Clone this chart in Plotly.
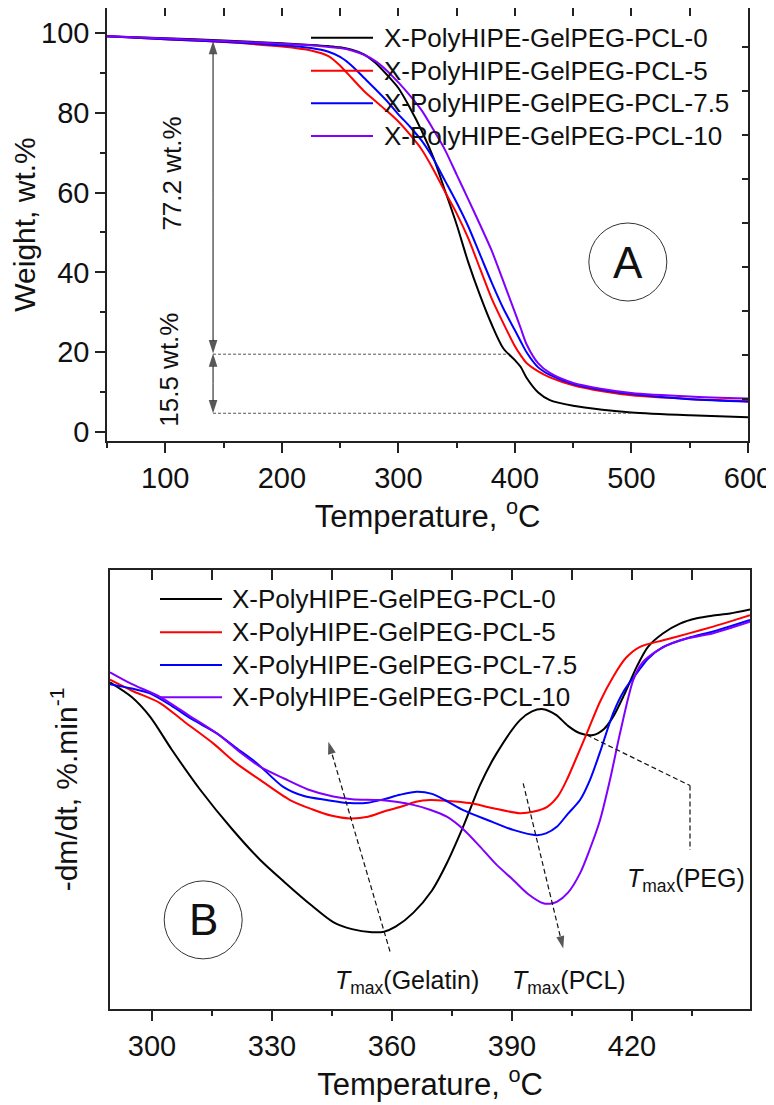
import plotly.graph_objects as go

# ---------------- data ----------------
NAMES = ["X-PolyHIPE-GelPEG-PCL-0", "X-PolyHIPE-GelPEG-PCL-5",
         "X-PolyHIPE-GelPEG-PCL-7.5", "X-PolyHIPE-GelPEG-PCL-10"]
COLORS = ["#000000", "#ff0000", "#0000ff", "#8000ff"]

# Panel A : TGA weight (%) vs temperature (°C)
T_TGA = [50, 100, 150, 200, 225, 240, 250, 260, 270, 280, 290, 300, 310, 320, 330, 340,
         350, 360, 370, 380, 390, 400, 405, 410, 420, 430, 450, 475, 500, 550, 600]
W_PCL0 = [99.2, 98.7, 98.1, 97.4, 97.0, 96.7, 96.4, 95.8, 94.7, 92.6, 89.6, 86.2, 81.2, 75.5, 68.8, 60.5,
          52.0, 42.5, 34.3, 27.0, 21.0, 18.0, 16.3, 13.6, 9.9, 8.0, 6.6, 5.6, 4.9, 4.2, 3.7]
W_PCL5 = [99.2, 98.4, 97.7, 96.6, 95.6, 94.2, 91.8, 88.7, 85.6, 83.0, 80.5, 77.8, 74.5, 70.8, 65.8, 60.2,
          54.8, 48.5, 41.0, 33.5, 27.3, 21.5, 19.2, 17.3, 15.2, 13.7, 11.7, 10.2, 9.2, 8.3, 7.8]
W_PCL75 = [99.2, 98.4, 97.8, 96.9, 96.2, 95.3, 94.0, 91.8, 88.9, 86.0, 83.0, 79.6, 76.5, 73.0, 68.5, 63.0,
           57.5, 51.5, 44.5, 37.5, 31.0, 25.5, 22.7, 20.0, 16.2, 14.3, 12.0, 10.5, 9.5, 8.2, 7.6]
W_PCL10 = [99.2, 98.6, 98.0, 97.3, 96.9, 96.5, 96.2, 95.6, 94.6, 93.0, 90.6, 87.6, 84.3, 80.6, 75.8, 70.7,
           64.5, 58.3, 52.0, 45.5, 37.8, 30.0, 26.0, 22.0, 17.2, 14.8, 12.3, 10.8, 9.8, 8.9, 8.4]

# Panel B : DTG (-dm/dt, arbitrary units) vs temperature (°C)
T_DTG0 = [289.5, 295, 299.5, 305, 312, 320, 327, 333, 340, 345.3, 350, 355, 358, 361, 365.3, 370,
          373.7, 378, 382, 386, 392, 395, 397.8, 401, 404, 407, 410.3, 413, 415.3, 418, 421.2,
          424, 427.8, 432, 436.2, 440, 444.5, 449.5]
D_PCL0 = [74.4, 71.0, 66.6, 59.0, 50.0, 41.0, 34.0, 29.0, 23.5, 19.8, 18.2, 17.5, 17.6, 18.8, 21.9, 27.0,
          33.2, 42.0, 51.0, 58.0, 65.8, 67.8, 68.3, 67.0, 64.5, 62.8, 62.4, 63.8, 66.6, 71.5, 78.0,
          82.5, 85.6, 87.8, 89.0, 89.6, 90.1, 91.0]
T_DTG5 = [289.5, 295, 302, 308, 315.3, 321, 327, 334.5, 340, 345, 349.5, 354, 358, 362, 366, 369.5,
          374, 379.5, 385, 392, 395.5, 398.7, 401.5, 403.7, 406, 408.7, 412, 415.3, 418.5, 422,
          427.8, 434, 440.3, 445, 449.5]
D_PCL5 = [75.0, 72.5, 69.7, 65.5, 60.5, 56.0, 52.2, 47.6, 45.5, 44.0, 43.4, 43.8, 45.0, 46.0, 47.2, 47.6,
          47.4, 46.9, 45.8, 44.6, 45.0, 46.0, 48.5, 52.2, 57.0, 62.8, 70.0, 75.7, 80.0, 82.5,
          84.0, 85.5, 87.1, 88.4, 89.7]
T_DTG75 = [289.5, 295, 299.5, 305, 310, 316.2, 321, 326.2, 332.8, 338, 343.7, 349.5, 354, 358, 362,
           366.2, 370, 374, 377.8, 384, 390.3, 396.2, 398.5, 401.2, 404, 407, 409.5, 412, 415.3,
           418, 421.2, 424, 427.8, 434, 440.3, 445, 449.5]
D_PCL75 = [74.0, 73.0, 71.9, 69.0, 66.0, 62.8, 59.5, 56.0, 50.6, 48.5, 47.6, 46.9, 47.0, 47.8, 48.8,
           49.5, 49.0, 47.2, 45.3, 43.0, 40.8, 39.6, 40.0, 41.5, 44.5, 47.6, 52.2, 58.5, 67.4,
           72.5, 76.5, 79.8, 82.5, 84.5, 86.0, 87.3, 88.6]
T_DTG10 = [289.5, 295, 302, 309, 316.2, 322, 327, 333, 339, 345.3, 350, 357, 361, 365.3, 369.5,
           373.7, 378, 382, 386, 390.3, 394, 397.8, 399.5, 401.2, 404, 407, 409.5, 412, 414.5,
           417, 420.3, 422.5, 425.3, 428.5, 432, 436, 440.3, 445, 449.5]
D_PCL10 = [76.7, 74.0, 71.1, 67.0, 62.8, 58.5, 55.2, 52.5, 50.0, 48.4, 47.8, 47.6, 47.2, 46.5, 45.4,
           43.8, 40.8, 37.0, 33.0, 29.4, 26.2, 24.1, 24.0, 24.4, 26.5, 30.9, 36.5, 43.0, 52.2,
           62.8, 74.9, 78.8, 81.0, 82.7, 84.0, 84.8, 85.6, 86.9, 88.2]

TGA = [W_PCL0, W_PCL5, W_PCL75, W_PCL10]
DTG = [(T_DTG0, D_PCL0), (T_DTG5, D_PCL5), (T_DTG75, D_PCL75), (T_DTG10, D_PCL10)]

FONT = "Arial, 'Liberation Sans', sans-serif"
PAGE_W, PAGE_H = 774, 1105
BODY = 8                      # default page body margin in the browser
W_FIG, H_FIG = PAGE_W - BODY, PAGE_H - BODY


def px_x(p):
    """page pixel x -> paper fraction"""
    return (p - BODY) / W_FIG


def px_y(p):
    """page pixel y -> paper fraction"""
    return (PAGE_H - p) / H_FIG


fig = go.Figure()
for name, color, w in zip(NAMES, COLORS, TGA):
    fig.add_trace(go.Scatter(x=T_TGA, y=w, mode="lines", name=name, showlegend=False,
                             line=dict(color=color, width=2, shape="spline", smoothing=0.8),
                             xaxis="x", yaxis="y"))
for name, color, (t, d) in zip(NAMES, COLORS, DTG):
    fig.add_trace(go.Scatter(x=t, y=d, mode="lines", name=name, showlegend=False,
                             line=dict(color=color, width=2, shape="spline", smoothing=0.8),
                             xaxis="x2", yaxis="y2"))

# empty helper traces so the frame axes (inward ticks on top / right) are drawn
for xa, ya in [("x3", "y"), ("x", "y3"), ("x4", "y2")]:
    fig.add_trace(go.Scatter(x=[], y=[], xaxis=xa, yaxis=ya, showlegend=False, hoverinfo="skip"))


# annotation arrows (tail -> tip), drawn with arrow-head markers
def arrow(xs, ys, xa, ya, dash="solid", width=1.0, size=14):
    fig.add_trace(go.Scatter(x=xs, y=ys, xaxis=xa, yaxis=ya, mode="lines+markers",
                             showlegend=False, hoverinfo="skip",
                             line=dict(color="#111", width=width, dash=dash),
                             marker=dict(symbol="arrow", angleref="previous", size=[0, size],
                                         color="#111", line=dict(width=0))))


arrow([141, 141], [58.85, 98.0], "x", "y")
arrow([141, 141], [58.85, 19.7], "x", "y")
arrow([141, 141], [12.2, 19.7], "x", "y")
arrow([141, 141], [12.2, 4.7], "x", "y")
arrow([359.5, 344.1], [13.1, 60.9], "x2", "y2", dash="5px,3px", width=1.2, size=13)
arrow([392.8, 402.8], [51.4, 13.8], "x2", "y2", dash="5px,3px", width=1.2, size=13)

AX = dict(showline=True, linecolor="#222", linewidth=1.5, tickcolor="#222", tickwidth=1.5,
          showgrid=False, zeroline=False, tickfont=dict(family=FONT, size=29, color="#111"))

# top panel: frame top clamped to the page body edge; range keeps 4 px per wt.%
Y1_RANGE = [-2.25, 106.25]
dom_x1 = [px_x(107), px_x(748)]
dom_y1 = [px_y(441), 1.0]
dom_x2 = [px_x(110), px_x(750)]
dom_y2 = [px_y(1009), px_y(570)]

fig.update_layout(
    width=W_FIG, height=H_FIG,
    margin=dict(l=0, r=0, t=0, b=0, autoexpand=False),
    paper_bgcolor="white", plot_bgcolor="white",
    font=dict(family=FONT, color="#111"),
    showlegend=False,
    xaxis=dict(AX, domain=dom_x1, anchor="y", range=[50, 600], tick0=0, dtick=100, mirror=True,
               ticks="outside", ticklen=10,
               minor=dict(ticks="outside", ticklen=5, dtick=50, tick0=0, tickcolor="#222", tickwidth=1.5),
               title=dict(text="Temperature, <sup>o</sup>C", font=dict(family=FONT, size=31), standoff=10)),
    yaxis=dict(AX, domain=dom_y1, anchor="x", range=Y1_RANGE, tick0=0, dtick=20, mirror=True,
               ticks="outside", ticklen=10,
               minor=dict(ticks="outside", ticklen=5, dtick=10, tick0=0, tickcolor="#222", tickwidth=1.5),
               title=dict(text="Weight, wt.%", font=dict(family=FONT, size=30), standoff=12)),
    xaxis3=dict(AX, domain=dom_x1, anchor="y", overlaying="x", side="top", range=[50, 600],
                tick0=0, dtick=50, ticks="inside", ticklen=8, showticklabels=False),
    yaxis3=dict(AX, domain=dom_y1, anchor="x", overlaying="y", side="right", range=Y1_RANGE,
                tick0=8.4, dtick=11, ticks="inside", ticklen=6, showticklabels=False),
    xaxis2=dict(AX, domain=dom_x2, anchor="y2", range=[289.5, 449.5], tick0=300, dtick=30, mirror=True,
                ticks="outside", ticklen=10,
                minor=dict(ticks="outside", ticklen=5, dtick=15, tick0=300, tickcolor="#222", tickwidth=1.5),
                title=dict(text="Temperature, <sup>o</sup>C", font=dict(family=FONT, size=31), standoff=12)),
    yaxis2=dict(AX, domain=dom_y2, anchor="x2", range=[0, 100], showticklabels=False, ticks="",
                mirror=True,
                title=dict(text="-dm/dt, %.min<sup>-1</sup>", font=dict(family=FONT, size=30), standoff=22)),
    xaxis4=dict(AX, domain=dom_x2, anchor="y2", overlaying="x2", side="top", range=[289.5, 449.5],
                tick0=300, dtick=15, ticks="inside", ticklen=10, showticklabels=False),
)

shapes = []
ann = []

# ---- legends (drawn as line samples + labels) ----
LEG_FONT = dict(family=FONT, size=26, color="#111")
for (lx0, lx1, tx, rows) in [(311, 373, 382, [37.7, 70.7, 103.3, 136.0]),
                             (160, 222, 230, [599.0, 632.3, 665.0, 697.3])]:
    for name, color, ry in zip(NAMES, COLORS, rows):
        shapes.append(dict(type="line", xref="paper", yref="paper", x0=px_x(lx0), x1=px_x(lx1),
                           y0=px_y(ry), y1=px_y(ry), line=dict(color=color, width=2)))
        ann.append(dict(xref="paper", yref="paper", x=px_x(tx), y=px_y(ry), xanchor="left",
                        yanchor="middle", text=name, showarrow=False, font=LEG_FONT))

# ---- panel A annotations ----
shapes.append(dict(type="line", xref="x", yref="y", x0=141, x1=394, y0=19.5, y1=19.5,
                   line=dict(color="#555", width=1, dash="3px,2px")))
shapes.append(dict(type="line", xref="x", yref="y", x0=141, x1=500, y0=4.7, y1=4.7,
                   line=dict(color="#555", width=1, dash="3px,2px")))
ann.append(dict(xref="x", yref="y", x=105.6, y=64.7, text="77.2 wt.%", textangle=-90,
                showarrow=False, font=dict(family=FONT, size=26, color="#111")))
ann.append(dict(xref="x", yref="y", x=103.5, y=15.7, text="15.5 wt.%", textangle=-90,
                showarrow=False, font=dict(family=FONT, size=26, color="#111")))
shapes.append(dict(type="circle", xref="x", yref="y", xsizemode="pixel", ysizemode="pixel",
                   xanchor=496.9, yanchor=42.6, x0=-39, x1=39, y0=-39, y1=39,
                   line=dict(color="#333", width=1)))
ann.append(dict(xref="x", yref="y", x=496.9, y=42.6, text="A", showarrow=False,
                font=dict(family=FONT, size=44, color="#111")))

# ---- panel B annotations ----
DASH = dict(color="#111", width=1.2, dash="5px,3px")
shapes.append(dict(type="line", xref="x2", yref="y2", x0=408.7, y0=62.4, x1=434.5, y1=50.9, line=DASH))
shapes.append(dict(type="line", xref="x2", yref="y2", x0=434.5, y0=50.9, x1=434.5, y1=36.2, line=DASH))

TF = dict(family=FONT, size=25, color="#111")
ann.append(dict(xref="x2", yref="y2", x=363.8, y=6.2, showarrow=False, font=TF,
                text="<i>T</i><sub>max</sub>(Gelatin)"))
ann.append(dict(xref="x2", yref="y2", x=404.3, y=6.2, showarrow=False, font=TF,
                text="<i>T</i><sub>max</sub>(PCL)"))
ann.append(dict(xref="x2", yref="y2", x=433.5, y=29.4, showarrow=False, font=TF,
                text="<i>T</i><sub>max</sub>(PEG)"))
shapes.append(dict(type="circle", xref="x2", yref="y2", xsizemode="pixel", ysizemode="pixel",
                   xanchor=312.8, yanchor=20.3, x0=-39, x1=39, y0=-39, y1=39,
                   line=dict(color="#333", width=1)))
ann.append(dict(xref="x2", yref="y2", x=312.8, y=20.3, text="B", showarrow=False,
                font=dict(family=FONT, size=44, color="#111")))

fig.update_layout(shapes=shapes, annotations=ann)
fig.write_html("out.html")
